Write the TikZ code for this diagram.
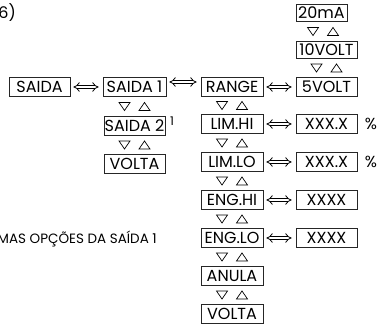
\documentclass[tikz,border=0pt]{standalone}
\usepackage{fontspec}
\setmainfont{Poppins}
\usetikzlibrary{arrows.meta,calc}
\tikzset{
  box/.style={draw=black!85, line width=0.8pt, minimum height=19.5pt, minimum width=61pt,
    inner sep=0pt, text height=11.6pt, text depth=0pt, font=\fontsize{16}{16}\selectfont},
  dbl/.style={double, double distance=2.4pt, line width=0.8pt, {Implies}-{Implies},
    shorten <=3pt, shorten >=4pt},
  updown/.pic={
    \draw[line width=0.7pt] (-15.5,-4) -- (-4.5,-4) -- (-10,4) -- cycle;
    \draw[line width=0.7pt] (4.5,4) -- (15.5,4) -- (10,-4) -- cycle;
  },
  lbl/.style={inner sep=0pt, font=\fontsize{16}{16}\selectfont},
}
\begin{document}
\begin{tikzpicture}[x=1pt,y=-1pt]
\useasboundingbox (0,0) rectangle (378,328);
% left
\node[box] (saida) at (39.5,87) {SAIDA};
\node[box, minimum width=63pt] (s1) at (134.5,87) {SAIDA 1};
\node[box] (s2) at (134.5,126) {SAIDA 2};
\node[box] (v1) at (134.5,164) {VOLTA};
\node[inner sep=0pt, font=\fontsize{12}{12}\selectfont] (sup) at (172,121) {1};
% middle
\node[box, minimum width=62pt] (range) at (232,87) {RANGE};
\node[box, minimum width=62pt] (limhi) at (232,124) {LIM.HI};
\node[box, minimum width=62pt] (limlo) at (232,162) {LIM.LO};
\node[box, minimum width=62pt] (enghi) at (232,200) {ENG.HI};
\node[box, minimum width=62pt] (englo) at (232,238) {ENG.LO};
\node[box, minimum width=62pt] (anula) at (232,276) {ANULA};
\node[box, minimum width=62pt] (v2) at (232,314) {VOLTA};
% right
\node[box, minimum width=51pt, minimum height=17.5pt] (ma) at (321.5,13) {20mA};
\node[box, minimum height=17.5pt] (v10) at (326.5,50) {10VOLT};
\node[box] (v5) at (326.5,87) {5VOLT};
\node[box] (x1) at (326.5,124) {XXX.X};
\node[box] (x2) at (326.5,162) {XXX.X};
\node[box] (x3) at (326.5,200) {XXXX};
\node[box] (x4) at (326.5,238) {XXXX};
\node[lbl] (p1) at (371,124) {\%};
\node[lbl] (p2) at (371,162) {\%};
% texts
\node[lbl, anchor=east, font=\fontsize{16}{16}\selectfont] (t26) at (16,13) {26)};
\node[inner sep=0pt, anchor=east, font=\fontsize{13.5}{13.5}\selectfont] (cap) at (157,239) {MAS OPÇÕES DA SAÍDA 1};
% connectors
\draw[dbl] (saida) -- (s1);
\draw[dbl] ([yshift=5pt]s1.east) -- ([yshift=5pt]range.west);
\draw[dbl] (range) -- (v5);
\draw[dbl] (limhi) -- (x1);
\draw[dbl] (limlo) -- (x2);
\draw[dbl] (enghi) -- (x3);
\draw[dbl] (englo) -- (x4);
% up/down
\pic at ($(s1.south)!0.5!(s2.north)$) {updown};
\pic at ($(s2.south)!0.5!(v1.north)$) {updown};
\pic at ($(range.south)!0.5!(limhi.north)$) {updown};
\pic at ($(limhi.south)!0.5!(limlo.north)$) {updown};
\pic at ($(limlo.south)!0.5!(enghi.north)$) {updown};
\pic at ($(enghi.south)!0.5!(englo.north)$) {updown};
\pic at ($(englo.south)!0.5!(anula.north)$) {updown};
\pic at ($(anula.south)!0.5!(v2.north)$) {updown};
\pic at ($(ma.south)!0.5!(v10.north)+(-1,0)$) {updown};
\pic at ($(v10.south)!0.5!(v5.north)$) {updown};
\end{tikzpicture}
\end{document}
